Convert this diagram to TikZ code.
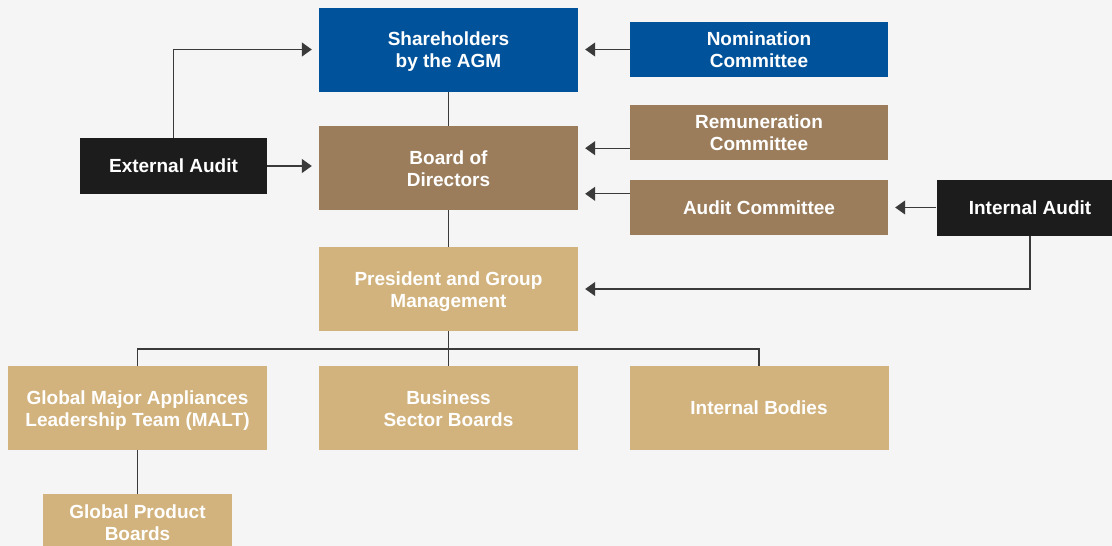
\documentclass[tikz,border=0pt]{standalone}
\usepackage{fontspec}
\setmainfont{Liberation Sans}
\usetikzlibrary{arrows.meta}
\definecolor{bgcol}{HTML}{F5F5F5}
\definecolor{agmblue}{HTML}{00539B}
\definecolor{boardbrown}{HTML}{9B7D5C}
\definecolor{mgmttan}{HTML}{D2B37D}
\definecolor{auditblack}{HTML}{1C1C1C}
\definecolor{linecol}{HTML}{3A3A3A}
\begin{document}
\begin{tikzpicture}[x=1pt, y=-1pt, >={Triangle[width=14pt,length=10pt]},
  every node/.style={align=center, text=white, inner sep=0pt, font=\fontsize{19}{22}\selectfont\bfseries},
  twoline/.style={text height=36pt, text depth=0pt},
  bigbox/.style={minimum width=259pt, minimum height=84pt},
  smallbox/.style={minimum width=258pt, minimum height=55pt},
  auditbox/.style={fill=auditblack, minimum width=187pt, minimum height=56pt},
  link/.style={draw=linecol, line width=1.2pt},
  feed/.style={link, ->, shorten >=7pt}]
\fill[bgcol] (0,0) rectangle (1112,546);
\clip (0,0) rectangle (1112,546);
\node[bigbox, twoline, fill=agmblue] (sh) at (448.5,49.5) {Shareholders\\by the AGM};
\node[smallbox, twoline, fill=agmblue] (nom) at (759,49.5) {Nomination\\Committee};
\node[bigbox, twoline, fill=boardbrown] (bod) at (448.5,168) {Board of\\Directors};
\node[smallbox, twoline, fill=boardbrown] (rem) at (759,132.5) {Remuneration\\Committee};
\node[smallbox, fill=boardbrown] (ac) at (759,207.5) {Audit Committee};
\node[auditbox] (ext) at (173.5,166) {External Audit};
\node[auditbox] (int) at (1030,207.5) {Internal Audit};
\node[bigbox, twoline, fill=mgmttan] (pgm) at (448.5,289) {President and Group\\Management};
\node[bigbox, twoline, fill=mgmttan] (malt) at (137.5,408) {Global Major Appliances\\Leadership Team (MALT)};
\node[bigbox, twoline, fill=mgmttan] (bsb) at (448.5,408) {Business\\Sector Boards};
\node[bigbox, fill=mgmttan] (ib) at (759,408) {Internal Bodies};
\node[auditbox, twoline, fill=mgmttan, minimum width=189pt] (gpb) at (137.5,522) {Global Product\\Boards};
\coordinate (bus) at (448.5,349);
\draw[link] (sh) -- (bod);
\draw[link] (bod) -- (pgm);
\draw[feed] (ext.north) |- (sh.west);
\draw[feed] (ext.east) -- (ext.east -| bod.west);
\draw[feed] (nom.west) -- (nom.west -| sh.east);
\draw[feed] ([yshift=12pt]rem.south west) -- ([yshift=12pt]rem.south west -| bod.east);
\draw[feed] ([yshift=-14pt]ac.north west) -- ([yshift=-14pt]ac.north west -| bod.east);
\draw[feed] (int.west) -- (ac.east);
\draw[feed] (int.south) |- (pgm.east);
\draw[link] (pgm.south) -- (bus);
\draw[link] (bus) -| (malt.north);
\draw[link] (bus) -| (ib.north);
\draw[link] (bus) -- (bsb.north);
\draw[link] (malt) -- (gpb);
\end{tikzpicture}
\end{document}
